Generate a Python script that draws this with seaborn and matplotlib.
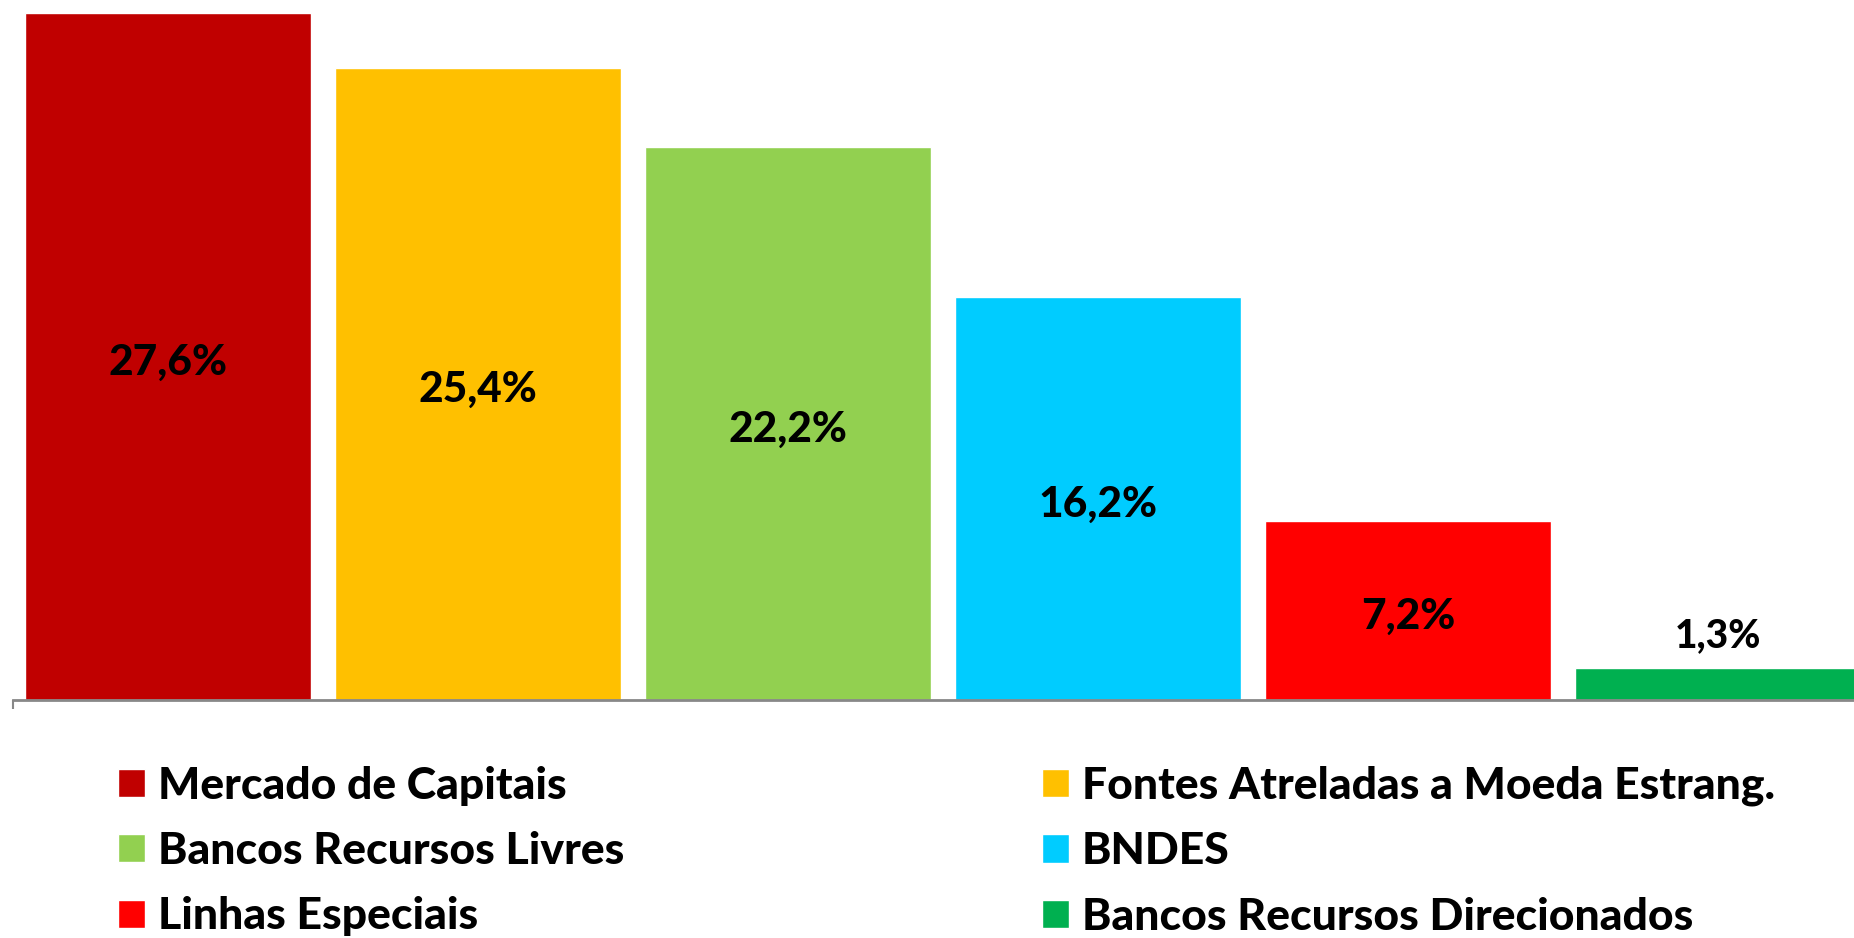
import matplotlib
matplotlib.use("Agg")
import matplotlib.pyplot as plt
import seaborn as sns
import pandas as pd

categories = ["Mercado de Capitais", "Fontes Atreladas a Moeda Estrang.",
              "Bancos Recursos Livres", "BNDES", "Linhas Especiais",
              "Bancos Recursos Direcionados"]
values = [27.6, 25.4, 22.2, 16.2, 7.2, 1.3]
value_labels = ["27,6%", "25,4%", "22,2%", "16,2%", "7,2%", "1,3%"]
colors = ["#C00000", "#FFC000", "#92D050", "#00CCFF", "#FF0000", "#00B050"]

sns.set_theme(style="white")
plt.rcParams["font.family"] = ["Lato", "DejaVu Sans"]
plt.rcParams["text.color"] = "black"
WEIGHT = 900

W, H = 1854, 938
fig = plt.figure(figsize=(W / 100, H / 100), dpi=100)
ax = fig.add_axes([13 / W, 238 / H, 1860 / W, 687 / H])

df = pd.DataFrame({"cat": categories, "val": values})
sns.barplot(data=df, x="cat", y="val", hue="cat", palette=colors,
            saturation=1, width=0.92, legend=True, ax=ax)

ax.set_xlim(-0.5, 5.5)
ax.set_ylim(0, 27.6)
for s in ["top", "left", "right"]:
    ax.spines[s].set_visible(False)
ax.spines["bottom"].set_color("#888888")
ax.spines["bottom"].set_linewidth(2)
ax.set_yticks([])
ax.set_xticks([-0.5])
ax.set_xticklabels([""])
ax.tick_params(axis="x", bottom=True, direction="out", length=6.5,
               width=1.5, color="#888888")
ax.set_xlabel("")
ax.set_ylabel("")

for i, (v, lab) in enumerate(zip(values, value_labels)):
    if i < 5:
        ax.annotate(lab, (i, v / 2), xytext=(0, -2), textcoords="offset points",
                    ha="center", va="center_baseline", fontsize=30.5,
                    fontweight=WEIGHT, color="black")
    else:
        ax.annotate(lab, (i, v), xytext=(0, 15), textcoords="offset points",
                    ha="center", va="baseline", fontsize=28,
                    fontweight=WEIGHT, color="black")

handles, labels = ax.get_legend_handles_labels()
ax.get_legend().remove()

order_cols = [[0, 2, 4], [1, 3, 5]]
xs = [118, 1042]
leg_kw = dict(frameon=False, borderpad=0, borderaxespad=0,
              handlelength=0.6, handleheight=0.6, handletextpad=0.3,
              labelspacing=0.57, loc="center left", labelcolor="black",
              prop={"weight": WEIGHT, "size": 32})
for col, x in zip(order_cols, xs):
    leg = fig.legend([handles[k] for k in col], [labels[k] for k in col],
                     bbox_to_anchor=(x / W, (H - 851) / H), **leg_kw)

fig.savefig("out.png", dpi=100)
